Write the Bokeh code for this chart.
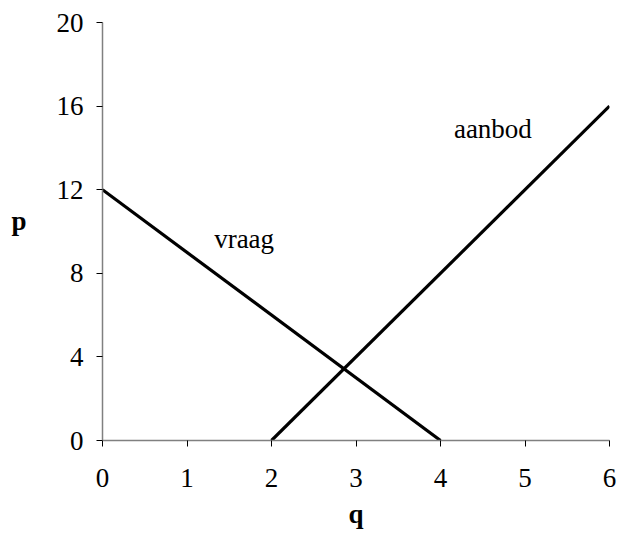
from bokeh.plotting import figure
from bokeh.models import Range1d, FixedTicker, Label, LinearAxis
from bokeh.embed import file_html
from bokeh.resources import INLINE

# data
q_vraag = [0, 4]
p_vraag = [12, 0]
q_aanbod = [2, 6]
p_aanbod = [0, 16]
x_ticks = [0, 1, 2, 3, 4, 5, 6]
y_ticks = [0, 4, 8, 12, 16, 20]

FONT = "Liberation Serif"
FS = "27px"

p = figure(width=617, height=531, output_backend="svg", toolbar_location=None,
           x_range=Range1d(0, 6), y_range=Range1d(0, 20),
           min_border_left=102, min_border_right=8, min_border_top=22, min_border_bottom=80)
p.outline_line_color = None
p.grid.visible = False
p.background_fill_color = "white"
p.border_fill_color = "white"

p.line(q_vraag, p_vraag, line_color="black", line_width=3.2)
p.line(q_aanbod, p_aanbod, line_color="black", line_width=3.2)

p.xaxis.ticker = FixedTicker(ticks=x_ticks)
p.yaxis.ticker = FixedTicker(ticks=y_ticks)
for ax in (p.xaxis, p.yaxis):
    ax.axis_line_color = "#808080"
    ax.axis_line_width = 1.5
    ax.major_tick_line_color = "black"
    ax.major_tick_line_width = 1
    ax.major_tick_out = 6
    ax.major_tick_in = 0
    ax.minor_tick_line_color = None
    ax.major_label_text_font = FONT
    ax.major_label_text_font_size = FS
    ax.major_label_text_color = "black"
p.xaxis.major_label_standoff = 22
p.yaxis.major_label_standoff = 13

p.xaxis.axis_label = "q"
p.xaxis.axis_label_text_font = FONT
p.xaxis.axis_label_text_font_size = FS
p.xaxis.axis_label_text_font_style = "bold"
p.xaxis.axis_label_text_color = "black"
p.xaxis.axis_label_standoff = 9

# horizontal "p" label as a second left axis with one tick
pax = LinearAxis(ticker=FixedTicker(ticks=[10.5]), major_label_overrides={10.5: "p"},
                 axis_line_color=None, major_tick_line_color=None, minor_tick_line_color=None,
                 major_tick_out=0, major_tick_in=0, major_label_standoff=27,
                 major_label_text_font=FONT, major_label_text_font_size=FS,
                 major_label_text_font_style="bold", major_label_text_color="black")
p.add_layout(pax, "left")

labels = [("vraag", 1.676, 9.66), ("aanbod", 4.62, 14.92)]
for txt, x, y in labels:
    p.add_layout(Label(x=x, y=y, text=txt, text_font=FONT, text_font_size=FS,
                       text_align="center", text_baseline="alphabetic", text_color="black"))

open("out.html", "w").write(file_html(p, INLINE))
